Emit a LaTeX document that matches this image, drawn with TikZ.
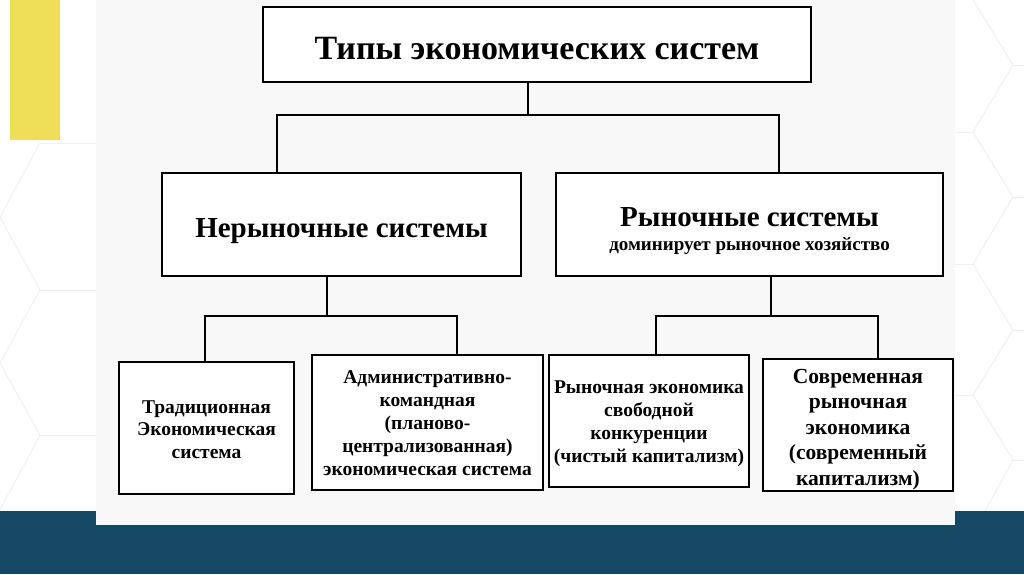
\documentclass[tikz,border=0pt]{standalone}
\usepackage{fontspec}
\setmainfont{Liberation Serif}
\usepackage{xcolor}
\usetikzlibrary{positioning}
\definecolor{slideblue}{RGB}{21,72,98}
\definecolor{slideyellow}{RGB}{238,222,88}
\definecolor{hexline}{RGB}{240,240,240}
\definecolor{paper}{RGB}{248,248,248}

\begin{document}
\begin{tikzpicture}[x=1pt, y=-1pt,
			box/.style = {shape=rectangle, draw, line width=2.6pt,
				fill=white, align=center, inner sep=0pt, text depth=0pt},
			link/.style = {draw, line width=1.8pt},
			hex/.style = {draw=hexline, line width=1pt}]
	\useasboundingbox (0,0) rectangle (1024,574);
	% background of the slide
	\draw[hex] (40,143) -- (0,217) -- (40,290) -- (0,363) -- (40,435) -- (0,510);
	\draw[hex] (40,143) -- (96,143) (40,290) -- (96,290) (40,435) -- (96,435);
	\draw[hex] (973,0) -- (1013,65) -- (973,132) -- (1013,197) -- (973,264)
		-- (1013,330) -- (973,395) -- (1013,460) -- (985,511);
	\draw[hex] (1013,65) -- (1024,65) (955,132) -- (973,132) (1013,197) -- (1024,197)
		(955,264) -- (973,264) (1013,330) -- (1024,330) (955,395) -- (973,395)
		(1013,460) -- (1024,460);
	\fill[slideyellow] (10,0) rectangle (60,140);
	\fill[slideblue] (0,511) rectangle (1024,574);
	\fill[paper] (96,0) rectangle (955,525);

	% boxes
	\node[box, minimum width=548pt, minimum height=75pt, text height=29pt,
		font=\bfseries\fontsize{34}{40}\selectfont] (title) at (537,44.5)
		{Типы экономических систем};
	\node[box, minimum width=359pt, minimum height=103pt, text height=25pt,
		font=\bfseries\fontsize{29}{34}\selectfont] (nonmarket) at (341.5,224.5)
		{Нерыночные системы};
	\node[box, minimum width=387pt, minimum height=103pt, text height=51pt,
		font=\bfseries\fontsize{29}{23.5}\selectfont] (market) at (749.5,224.5)
		{Рыночные системы\\{\fontsize{19}{22}\selectfont доминирует рыночное хозяйство}};
	\node[box, minimum width=175pt, minimum height=132pt, text height=60pt,
		font=\bfseries\fontsize{19.5}{22.5}\selectfont] (traditional) at (206.5,428)
		{Традиционная\\Экономическая\\система};
	\node[box, minimum width=231pt, minimum height=135pt, text height=105pt,
		font=\bfseries\fontsize{19.5}{23}\selectfont] (command) at (427.5,422.5)
		{Административно-\\командная\\(планово-\\централизованная)\\экономическая система};
	\node[box, minimum width=200pt, minimum height=132pt, text height=82pt,
		font=\bfseries\fontsize{19.5}{23}\selectfont] (freemarket) at (649,421)
		{Рыночная экономика\\свободной\\конкуренции\\(чистый капитализм)};
	\node[box, minimum width=190pt, minimum height=132pt, text height=120pt,
		font=\bfseries\fontsize{21.5}{25.5}\selectfont] (modernmarket) at (858,425)
		{Современная\\рыночная\\экономика\\(современный\\капитализм)};

	% connectors
	\coordinate (forkA) at (528,115);
	\coordinate (forkAl) at (277,115);
	\coordinate (forkAr) at (779,115);
	\coordinate (forkB) at (327,316);
	\coordinate (forkBl) at (205,316);
	\coordinate (forkBr) at (457,316);
	\coordinate (forkC) at (771,316);
	\coordinate (forkCl) at (656,316);
	\coordinate (forkCr) at (878,316);
	\draw[link] (title.south -| forkA) -- (forkA);
	\draw[link] (nonmarket.north -| forkAl) -- (forkAl) -- (forkAr) -- (market.north -| forkAr);
	\draw[link] (nonmarket.south -| forkB) -- (forkB);
	\draw[link] (traditional.north -| forkBl) -- (forkBl) -- (forkBr) -- (command.north -| forkBr);
	\draw[link] (market.south -| forkC) -- (forkC);
	\draw[link] (freemarket.north -| forkCl) -- (forkCl) -- (forkCr) -- (modernmarket.north -| forkCr);
\end{tikzpicture}
\end{document}
